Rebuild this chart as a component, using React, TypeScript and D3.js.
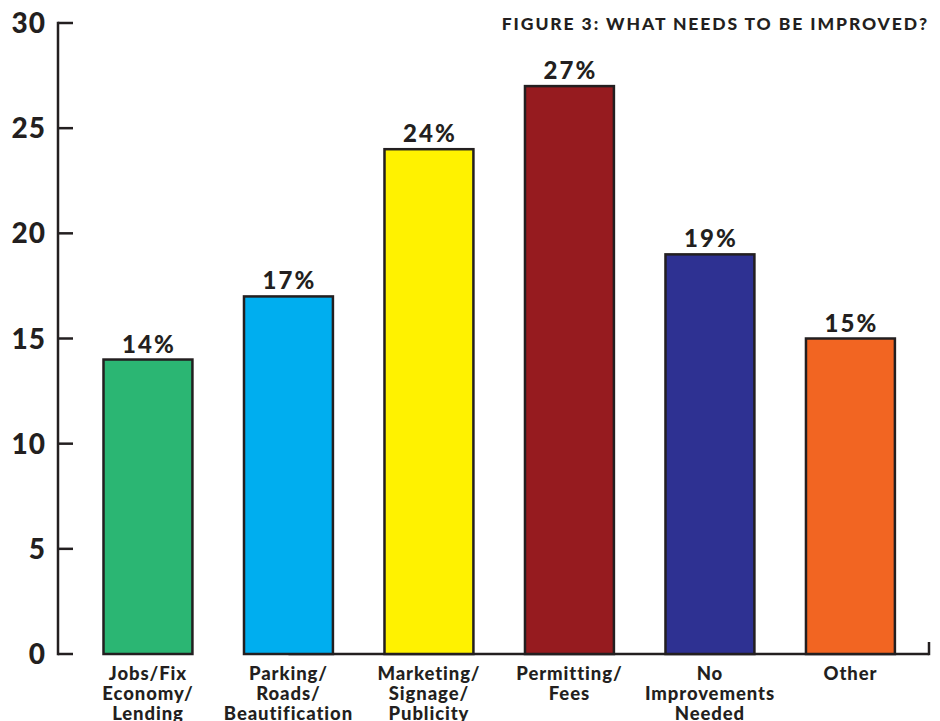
import React from "react";
import * as d3 from "d3";

const categories: string[][] = [
  ["Jobs/Fix", "Economy/", "Lending"],
  ["Parking/", "Roads/", "Beautification"],
  ["Marketing/", "Signage/", "Publicity"],
  ["Permitting/", "Fees"],
  ["No", "Improvements", "Needed"],
  ["Other"],
];
const values: number[] = [14, 17, 24, 27, 19, 15];
const colors: string[] = ["#2BB673", "#00AEEF", "#FFF200", "#961B1F", "#2E3192", "#F26522"];
const yTicks: number[] = [0, 5, 10, 15, 20, 25, 30];
const title = "FIGURE 3: WHAT NEEDS TO BE IMPROVED?";

const W = 940;
const H = 721;
const ink = "#231F20";
const font = "'Lato', 'Open Sans', sans-serif";

export default function App() {
  const keys = categories.map((c) => c.join(" "));
  const x = d3
    .scaleBand<string>()
    .domain(keys)
    .range([75.4, 923])
    .paddingInner(0.367)
    .paddingOuter(0.2);
  const y = d3.scaleLinear().domain([0, 30]).range([654, 23]);
  const axisX = 58;
  const baseStart = (x(keys[1]) ?? 0) + x.bandwidth() / 2;

  return (
    <svg
      width={W}
      height={H}
      style={{ position: "absolute", left: 0, top: 0, background: "#fff" }}
      fontFamily={font}
    >
      {/* y axis */}
      <line x1={axisX} x2={axisX} y1={y(30) - 1.2} y2={y(0) + 1.2} stroke={ink} strokeWidth={2.5} />
      {yTicks.map((t) => (
        <g key={t}>
          <line x1={axisX} x2={axisX + 15} y1={y(t)} y2={y(t)} stroke={ink} strokeWidth={2.5} />
          <text
            x={46}
            y={y(t)}
            dy="0.36em"
            textAnchor="end"
            fontSize={28}
            fontWeight={900}
            fill={ink}
            letterSpacing={1}
          >
            {t}
          </text>
        </g>
      ))}
      {/* partial baseline */}
      <line x1={baseStart} x2={929} y1={y(0)} y2={y(0)} stroke={ink} strokeWidth={2.5} />
      <line x1={929} x2={929} y1={y(0) + 1.2} y2={y(0) - 12} stroke={ink} strokeWidth={2.5} />

      {/* bars */}
      {keys.map((k, i) => {
        const bx = x(k) ?? 0;
        const by = y(values[i]);
        const cx = bx + x.bandwidth() / 2;
        return (
          <g key={k}>
            <rect
              x={bx}
              y={by}
              width={x.bandwidth()}
              height={y(0) - by}
              fill={colors[i]}
              stroke={ink}
              strokeWidth={2.5}
            />
            <text
              x={cx + 1}
              y={by - 7}
              textAnchor="middle"
              fontSize={24}
              fontWeight={900}
              fill={ink}
              letterSpacing={2}
            >
              {values[i]}%
            </text>
            <text
              x={cx}
              y={680}
              textAnchor="middle"
              fontSize={18.5}
              fontWeight={900}
              fill={ink}
              letterSpacing={0.9}
            >
              {categories[i].map((line, j) => (
                <tspan key={j} x={cx} dy={j === 0 ? 0 : 20}>
                  {line}
                </tspan>
              ))}
            </text>
          </g>
        );
      })}

      <text
        x={929}
        y={30}
        textAnchor="end"
        fontSize={17.5}
        fontWeight={900}
        fill={ink}
        letterSpacing={1.9}
      >
        {title}
      </text>
    </svg>
  );
}
